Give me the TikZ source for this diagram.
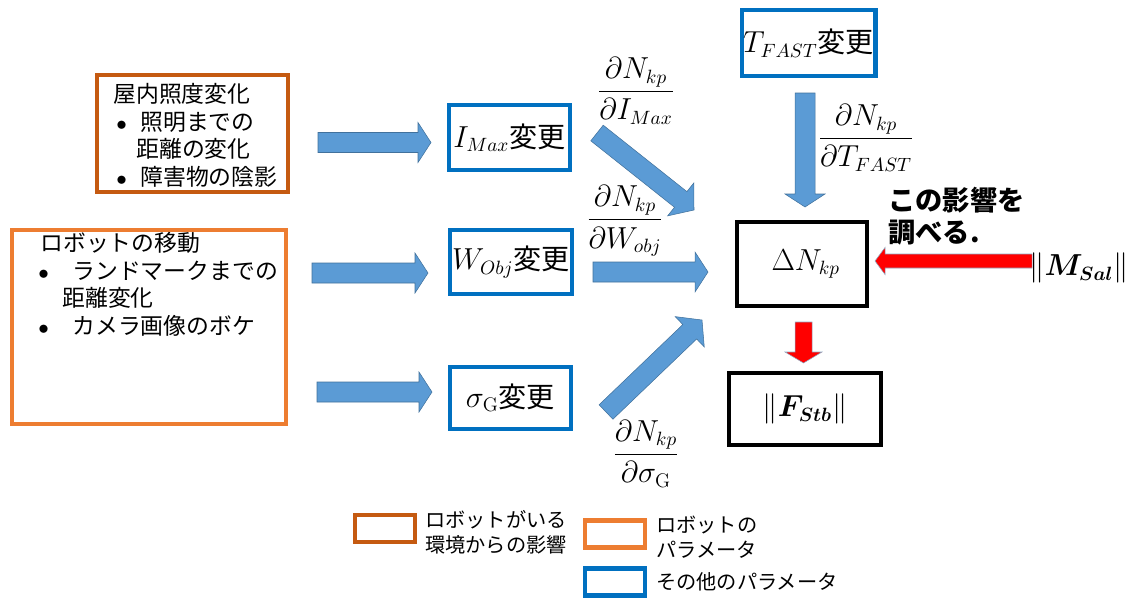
\documentclass[tikz,border=0pt]{standalone}
\usepackage{fontspec}
\usepackage{amsmath,bm}
\newfontfamily\jp{Noto Sans CJK JP}
\usetikzlibrary{calc,positioning}

\definecolor{envcol}{HTML}{C55A11}
\definecolor{robcol}{HTML}{ED7D31}
\definecolor{parcol}{HTML}{0070C0}
\definecolor{arrcol}{HTML}{5B9BD5}
\definecolor{arredge}{HTML}{41719C}
\definecolor{redcol}{HTML}{FF0000}

% block arrow: colour, from, to, half body, half head, head length
\newcommand{\blockarr}[6]{%
  \coordinate (hb) at ($(#3)!#6!(#2)$);
  \fill[#1] ($(#2)!#4!90:(#3)$) -- ($(hb)!#4!90:(#3)$) -- ($(hb)!#5!90:(#3)$)
    -- (#3) -- ($(hb)!#5!-90:(#3)$) -- ($(hb)!#4!-90:(#3)$)
    -- ($(#2)!#4!-90:(#3)$) -- cycle;
}

\tikzset{
  envbox/.style={draw=envcol, line width=2.3pt, inner sep=0pt},
  robbox/.style={draw=robcol, line width=2.3pt, inner sep=0pt},
  parbox/.style={draw=parcol, line width=2.3pt, inner sep=0pt,
    font=\jp\fontsize{16}{19}\selectfont},
  resbox/.style={draw=black, line width=2.3pt, inner sep=0pt,
    font=\fontsize{16}{19}\selectfont},
  listtext/.style={anchor=north west, align=left, inner sep=0pt,
    font=\jp\fontsize{13}{15.7}\selectfont},
  legtext/.style={anchor=west, align=left, inner sep=0pt,
    font=\jp\fontsize{11.5}{14}\selectfont},
  deriv/.style={inner sep=0pt, font=\fontsize{16}{19}\selectfont},
  bluearr/.style={fill=arrcol, draw=arredge, line width=0.3pt},
  redarr/.style={fill=redcol, draw=arredge!60, line width=0.3pt},
}

\begin{document}
\begin{tikzpicture}[x=0.02cm, y=-0.02cm]
  \useasboundingbox (0,0) rectangle (1141,602);

  % Boxes of the robot's surroundings and of the robot.
  \node[envbox, minimum width=3.82cm, minimum height=2.34cm] (envbx) at (192.5,133.5) {};
  \node[listtext] (envtxt) at (113,83) {屋内照度変化\\
    \hspace*{0.06cm}\makebox[0.48cm][l]{$\bullet$}照明までの\\
    \hspace*{0.46cm}距離の変化\\
    \hspace*{0.06cm}\makebox[0.48cm][l]{$\bullet$}障害物の陰影};

  \node[robbox, minimum width=5.48cm, minimum height=3.88cm] (robbx) at (149,327) {};
  \node[listtext] (robtxt) at (38,232) {\hspace*{0.04cm}ロボットの移動\\
    \makebox[0.68cm][l]{$\bullet$}ランドマークまでの\\
    \hspace*{0.48cm}距離変化\\
    \makebox[0.68cm][l]{$\bullet$}カメラ画像のボケ};

  % Parameters.
  \node[parbox, minimum width=2.42cm, minimum height=1.3cm] (imax) at (509.5,137.5) {$I_{Max}$変更};
  \node[parbox, minimum width=2.44cm, minimum height=1.28cm] (wobj) at (511,262) {$W_{Obj}$変更};
  \node[parbox, minimum width=2.42cm, minimum height=1.24cm] (sigg) at (510.5,398) {$\sigma_{\mathrm{G}}$変更};
  \node[parbox, minimum width=2.68cm, minimum height=1.32cm] (tfast) at (808.5,43) {$T_{FAST}$変更};

  % Results.
  \node[resbox, minimum width=2.6cm, minimum height=1.68cm] (dnkp) at (802,264) {\hspace{0.15cm}$\Delta N_{kp}$};
  \node[resbox, minimum width=3.04cm, minimum height=1.44cm] (fstb) at (805,409) {$\|\bm{F_{Stb}}\|$};

  % Derivatives.
  \node[deriv] (dimax) at (636,91) {$\dfrac{\partial N_{kp}}{\partial I_{Max}}$};
  \node[deriv] (dwobj) at (625,221) {$\dfrac{\partial N_{kp}}{\partial W_{obj}}$};
  \node[deriv] (dtfast) at (866,138) {$\dfrac{\partial N_{kp}}{\partial T_{FAST}}$};
  \node[deriv] (dsigg) at (646,454) {$\dfrac{\partial N_{kp}}{\partial \sigma_{\mathrm{G}}}$};

  \node[anchor=west, align=left, inner sep=0pt,
    font=\jp\bfseries\fontsize{15.5}{18.5}\selectfont] (note) at (888,216) {この影響を\\調べる.};
  \node[deriv, anchor=east] (msal) at (1129,268) {$\|\bm{M_{Sal}}\|$};

  % Arrow ends.
  \coordinate (ea1) at (318,142.5);  \coordinate (ea2) at (431,142.5);
  \coordinate (ra1) at (312,273);    \coordinate (ra2) at (428,273);
  \coordinate (rb1) at (317,392);    \coordinate (rb2) at (432,392);
  \coordinate (ia1) at (597,133);    \coordinate (ia2) at (694,210);
  \coordinate (wa1) at (593,272);    \coordinate (wa2) at (708,272);
  \coordinate (sa1) at (606,412);    \coordinate (sa2) at (702,320);
  \coordinate (ta1) at (805,93);     \coordinate (ta2) at (805,207);
  \coordinate (ma1) at (1032,261);   \coordinate (ma2) at (875,261);
  \coordinate (da1) at (803.5,322);  \coordinate (da2) at (803.5,363);

  \blockarr{bluearr}{ea1}{ea2}{0.2cm}{0.4cm}{0.26cm}
  \blockarr{bluearr}{ra1}{ra2}{0.2cm}{0.4cm}{0.26cm}
  \blockarr{bluearr}{rb1}{rb2}{0.2cm}{0.4cm}{0.26cm}
  \blockarr{bluearr}{ia1}{ia2}{0.2cm}{0.42cm}{0.34cm}
  \blockarr{bluearr}{wa1}{wa2}{0.2cm}{0.4cm}{0.26cm}
  \blockarr{bluearr}{sa1}{sa2}{0.2cm}{0.42cm}{0.34cm}
  \blockarr{bluearr}{ta1}{ta2}{0.2cm}{0.4cm}{0.26cm}
  \blockarr{redarr}{ma1}{ma2}{0.14cm}{0.27cm}{0.2cm}
  \blockarr{redarr}{da1}{da2}{0.17cm}{0.37cm}{0.22cm}

  % Legend.
  \node[envbox, minimum width=1.2cm, minimum height=0.54cm] (legenv) at (385,528.5) {};
  \node[legtext] (legenvtxt) at (425,532) {ロボットがいる\\環境からの影響};
  \node[robbox, minimum width=1.2cm, minimum height=0.54cm] (legrob) at (615,534) {};
  \node[legtext] (legrobtxt) at (656,537) {ロボットの\\パラメータ};
  \node[parbox, minimum width=1.2cm, minimum height=0.54cm] (legpar) at (615,582) {};
  \node[legtext] (legpartxt) at (656,582) {その他のパラメータ};
\end{tikzpicture}
\end{document}
